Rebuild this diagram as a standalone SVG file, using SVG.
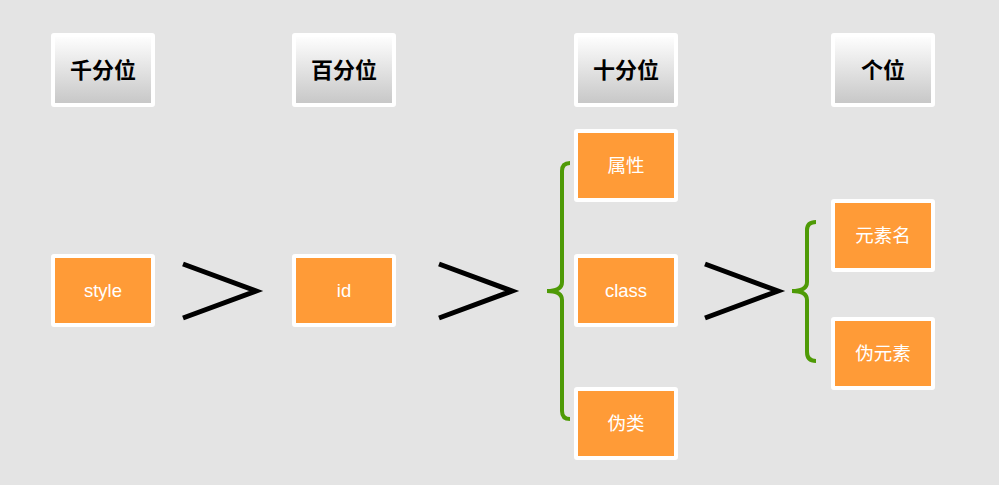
<svg xmlns="http://www.w3.org/2000/svg" width="999" height="485" viewBox="0 0 999 485">
<defs>
<linearGradient id="hg" x1="0" y1="0" x2="0" y2="1">
<stop offset="0" stop-color="#ffffff"/>
<stop offset="1" stop-color="#c6c6c6"/>
</linearGradient>
<style>
.h rect{fill:url(#hg);stroke:#ffffff;stroke-width:4}
.h text{font-family:"Liberation Sans","Noto Sans CJK SC",sans-serif;font-size:22px;font-weight:bold;fill:#000;text-anchor:middle;dominant-baseline:central}
.o rect{fill:#ff9b37;stroke:#ffffff;stroke-width:4}
.o text{font-family:"Liberation Sans","Noto Sans CJK SC",sans-serif;font-size:18.5px;fill:#fff;text-anchor:middle;dominant-baseline:central}
.gt{fill:none;stroke:#000;stroke-width:5;stroke-linejoin:miter}
.br{fill:none;stroke:#4e9a06;stroke-width:4;stroke-linecap:butt}
</style>
</defs>
<rect width="999" height="485" fill="#e4e4e4"/>
<g id="h1" class="h"><rect x="53" y="35" width="100" height="70" rx="1"/><text x="103" y="70">千分位</text></g>
<g id="h2" class="h"><rect x="294" y="35" width="100" height="70" rx="1"/><text x="344" y="70">百分位</text></g>
<g id="h3" class="h"><rect x="576" y="35" width="100" height="70" rx="1"/><text x="626" y="70">十分位</text></g>
<g id="h4" class="h"><rect x="833" y="35" width="100" height="70" rx="1"/><text x="883" y="70">个位</text></g>
<g id="style" class="o"><rect x="53" y="256" width="100" height="69" rx="1"/><text x="103" y="290">style</text></g>
<g id="id" class="o"><rect x="294" y="256" width="100" height="69" rx="1"/><text x="344" y="290">id</text></g>
<g id="attr" class="o"><rect x="576" y="131" width="100" height="69" rx="1"/><text x="626" y="165">属性</text></g>
<g id="class" class="o"><rect x="576" y="256" width="100" height="69" rx="1"/><text x="626" y="290">class</text></g>
<g id="pseudoclass" class="o"><rect x="576" y="389" width="100" height="69" rx="1"/><text x="626" y="423">伪类</text></g>
<g id="element" class="o"><rect x="833" y="201" width="100" height="69" rx="1"/><text x="883" y="235">元素名</text></g>
<g id="pseudoelement" class="o"><rect x="833" y="319" width="100" height="69" rx="1"/><text x="883" y="353">伪元素</text></g>
<g id="connectors">
<polyline class="gt" points="183,264 256,291 183,318"/>
<polyline class="gt" points="439,264 512,291 439,318"/>
<polyline class="gt" points="705,264 778,291 705,318"/>
<path class="br" d="M570,163 Q562,163 562,171 L562,282 Q562,291 547,291 Q562,291 562,300 L562,411 Q562,419 570,419"/>
<path class="br" d="M816,222 Q807,222 807,230 L807,282 Q807,291 792,291 Q807,291 807,300 L807,352 Q807,361 816,361"/>
</g>
</svg>
